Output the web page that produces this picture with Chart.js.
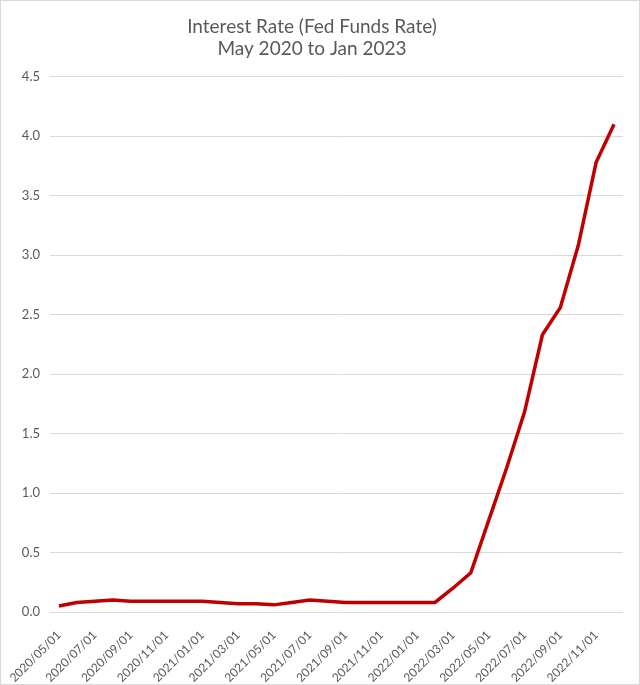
<!DOCTYPE html>
<html>
<head>
<meta charset="utf-8">
<script src="https://cdn.jsdelivr.net/npm/chart.js@4/dist/chart.umd.min.js"></script>
<style>
  body { margin: 0; background: #fff; }
  #wrap { width: 638px; height: 683px; border: 1px solid #d9d9d9; }
</style>
</head>
<body>
<div id="wrap"><canvas id="mychart"></canvas></div>
<script>
// monthly effective fed funds rate, May 2020 - Dec 2022
var months = ["2020/05/01", "2020/06/01", "2020/07/01", "2020/08/01", "2020/09/01", "2020/10/01",
    "2020/11/01", "2020/12/01", "2021/01/01", "2021/02/01", "2021/03/01", "2021/04/01",
    "2021/05/01", "2021/06/01", "2021/07/01", "2021/08/01", "2021/09/01", "2021/10/01",
    "2021/11/01", "2021/12/01", "2022/01/01", "2022/02/01", "2022/03/01", "2022/04/01",
    "2022/05/01", "2022/06/01", "2022/07/01", "2022/08/01", "2022/09/01", "2022/10/01",
    "2022/11/01", "2022/12/01"];
var rates = [0.05, 0.08, 0.09, 0.10, 0.09, 0.09, 0.09, 0.09, 0.09, 0.08, 0.07, 0.07,
    0.06, 0.08, 0.10, 0.09, 0.08, 0.08, 0.08, 0.08, 0.08, 0.08, 0.20, 0.33,
    0.77, 1.21, 1.68, 2.33, 2.56, 3.08, 3.78, 4.10];
var titleLines = ["Interest Rate (Fed Funds Rate)", "May 2020 to Jan 2023"];

var fontName = "Lato";
var grey = "#595959";

var myChart = new Chart(document.getElementById('mychart'), {
    type: 'line',
    data: {
        labels: months,
        datasets: [{
            label: 'Fed Funds Rate',
            data: rates,
            borderColor: "#c00000",
            borderWidth: 3.5,
            pointRadius: 0,
            fill: false,
            tension: 0
        }]
    },
    options: {
        responsive: true,
        maintainAspectRatio: false,
        animation: false,
        layout: { padding: { left: 0, right: 16, top: 0, bottom: 0 } },
        plugins: {
            legend: { display: false },
            tooltip: { enabled: false },
            title: {
                display: true,
                text: titleLines,
                color: grey,
                font: { family: fontName, size: 19, weight: 'normal', lineHeight: 1.2 },
                padding: { top: 14, bottom: 16 }
            }
        },
        scales: {
            x: {
                offset: true,
                grid: { display: false },
                border: { display: false },
                ticks: {
                    autoSkip: false,
                    maxRotation: 45,
                    minRotation: 45,
                    padding: 8,
                    color: grey,
                    font: { family: fontName, size: 12 },
                    callback: function(v, i) { return i % 2 === 0 ? months[i] : ''; }
                },
                afterFit: function(scale) { scale.height = 72; }
            },
            y: {
                min: 0,
                max: 4.5,
                grid: { color: "#d9d9d9", drawTicks: false },
                border: { display: false },
                ticks: {
                    stepSize: 0.5,
                    padding: 10,
                    color: grey,
                    font: { family: fontName, size: 13 },
                    callback: function(v) { return v.toFixed(1); }
                },
                afterFit: function(scale) { scale.width = 49; }
            }
        }
    }
});
</script>
</body>
</html>
